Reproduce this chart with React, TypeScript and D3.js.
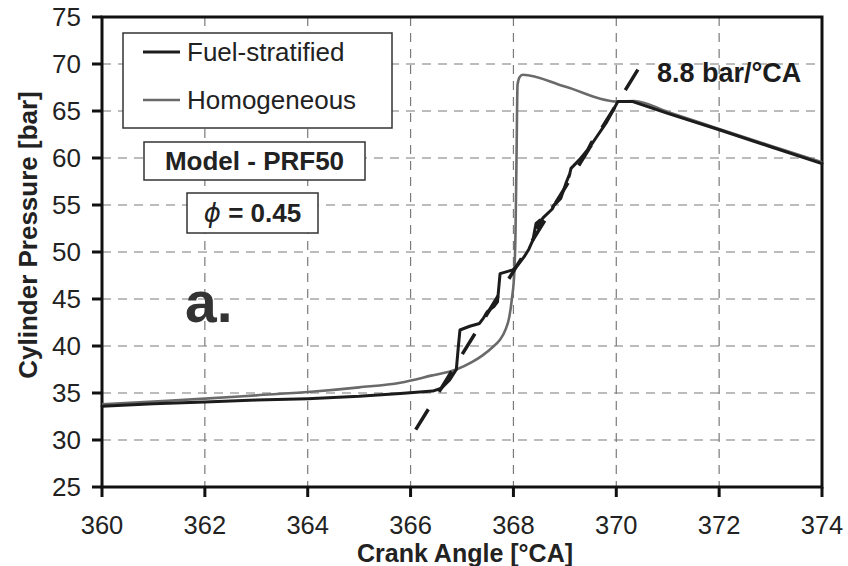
import React from "react";
import * as d3 from "d3";

const W = 848;
const H = 566;

const xTicks = [360, 362, 364, 366, 368, 370, 372, 374];
const yTicks = [25, 30, 35, 40, 45, 50, 55, 60, 65, 70, 75];

// Fuel-stratified (crank angle, pressure)
const stratCA = [360.0, 361.0, 362.0, 363.0, 364.0, 365.0, 365.8, 366.43, 366.6, 366.76, 366.89, 366.93, 366.96, 367.15, 367.34, 367.42, 367.5, 367.46, 367.55, 367.62, 367.69, 367.72, 367.74, 367.99, 368.1, 368.21, 368.3, 368.38, 368.44, 368.52, 368.47, 368.57, 368.76, 368.8, 368.76, 368.92, 369.02, 369.1, 369.08, 369.12, 369.28, 369.44, 369.52, 369.5, 369.6, 369.8, 369.92, 370.03, 370.32, 371.0, 372.0, 373.0, 374.0];
const stratP = [33.6, 33.85, 34.05, 34.25, 34.4, 34.65, 34.95, 35.2, 35.5, 36.4, 37.5, 40.0, 41.7, 42.1, 42.4, 43.0, 43.7, 43.4, 43.9, 44.2, 44.7, 46.5, 47.7, 48.1, 48.7, 49.5, 50.3, 51.3, 53.05, 53.4, 52.6, 53.6, 54.6, 55.1, 54.8, 55.7, 57.3, 58.4, 58.0, 58.9, 59.8, 60.85, 61.7, 61.3, 62.1, 63.7, 64.9, 66.0, 66.0, 64.75, 63.0, 61.2, 59.4];

// Homogeneous (crank angle, pressure)
const homogCA = [360.0, 361.0, 362.0, 363.0, 364.0, 365.0, 365.8, 366.4, 366.89, 367.2, 367.4, 367.6, 367.73, 367.85, 367.92, 367.97, 368.02, 368.04, 368.06, 368.08, 368.12, 368.18, 369.0, 370.03, 370.35, 371.0, 372.0, 373.0, 374.0];
const homogP = [33.8, 34.1, 34.4, 34.75, 35.1, 35.6, 36.1, 36.85, 37.5, 38.3, 39.0, 39.9, 40.6, 41.8, 43.1, 45.0, 48.1, 52.0, 60.0, 67.8, 68.6, 68.85, 67.6, 66.0, 66.05, 64.9, 63.1, 61.3, 59.55];

// 8.8 bar/°CA slope line
const slopeCA = [366.1, 370.42];
const slopeP = [31.1, 69.4];

const legendLabels = ["Fuel-stratified", "Homogeneous"];
const slopeLabel = "8.8 bar/°CA";
const modelLabel = "Model - PRF50";
const phiSymbol = "ϕ";
const phiValue = "= 0.45";
const panelLabel = "a.";
const xTitle = "Crank Angle [°CA]";
const yTitle = "Cylinder Pressure [bar]";

const FONT = "'Liberation Sans', Arial, Helvetica, sans-serif";

export default function App() {
  const left = 102, right = 822, top = 17, bottom = 487;
  const x = d3.scaleLinear().domain([360, 374]).range([left, right]);
  const y = d3.scaleLinear().domain([25, 75]).range([bottom, top]);

  const strat = stratCA.map((c, i) => [c, stratP[i]] as [number, number]);
  const homog = homogCA.map((c, i) => [c, homogP[i]] as [number, number]);
  const slope = slopeCA.map((c, i) => [c, slopeP[i]] as [number, number]);

  const lineLin = d3.line<[number, number]>().x(d => x(d[0])).y(d => y(d[1]));
  const lineMono = d3
    .line<[number, number]>()
    .x(d => x(d[0]))
    .y(d => y(d[1]))
    .curve(d3.curveMonotoneX);

  // dash pattern so the slope line starts and ends with a dash
  const sdx = x(slopeCA[1]) - x(slopeCA[0]);
  const sdy = y(slopeP[1]) - y(slopeP[0]);
  const sLen = Math.sqrt(sdx * sdx + sdy * sdy);
  const dashLen = 24;
  const nDash = 10;
  const gapLen = (sLen - dashLen * nDash) / (nDash - 1);

  return (
    <svg
      width={W}
      height={H}
      style={{ position: "absolute", left: 0, top: 0, background: "#fff" }}
      fontFamily={FONT}
    >
      <rect x={0} y={0} width={W} height={H} fill="#fff" />
      {/* grid */}
      <g stroke="#7a7a7a" strokeWidth={1.2} strokeDasharray="9,7">
        {yTicks.slice(1, -1).map(t => (
          <line key={"gy" + t} x1={left} x2={right} y1={y(t)} y2={y(t)} />
        ))}
        {xTicks.slice(1, -1).map(t => (
          <line key={"gx" + t} x1={x(t)} x2={x(t)} y1={top} y2={bottom} />
        ))}
      </g>

      {/* frame */}
      <rect x={left} y={top} width={right - left} height={bottom - top} fill="none" stroke="#111" strokeWidth={3} />

      {/* ticks */}
      <g stroke="#111" strokeWidth={3}>
        {yTicks.map(t => (
          <line key={"ty" + t} x1={left - 10} x2={left} y1={y(t)} y2={y(t)} />
        ))}
        {xTicks.map(t => (
          <line key={"tx" + t} x1={x(t)} x2={x(t)} y1={bottom} y2={bottom + 10} />
        ))}
      </g>
      <g fontSize={26} fill="#222">
        {yTicks.map(t => (
          <text key={"ly" + t} x={left - 21} y={y(t)} dy="0.35em" textAnchor="end">
            {t}
          </text>
        ))}
      </g>
      <g fontSize={25.5} fill="#222">
        {xTicks.map(t => (
          <text key={"lx" + t} x={x(t)} y={533.5} textAnchor="middle">
            {t}
          </text>
        ))}
      </g>

      {/* titles */}
      <text x={465} y={562} textAnchor="middle" fontSize={25} fontWeight="bold" fill="#222">
        {xTitle}
      </text>
      <text
        transform={`translate(37,235) rotate(-90)`}
        textAnchor="middle"
        fontSize={26}
        fontWeight="bold"
        fill="#222"
      >
        {yTitle}
      </text>

      {/* curves */}
      <path d={lineMono(homog) || ""} fill="none" stroke="#6a6a6a" strokeWidth={2.6} strokeLinejoin="round" />
      <path d={lineLin(strat) || ""} fill="none" stroke="#1c1c1c" strokeWidth={3} strokeLinejoin="round" strokeLinecap="round" />
      <path
        d={lineLin(slope) || ""}
        fill="none"
        stroke="#1c1c1c"
        strokeWidth={3.5}
        strokeDasharray={`${dashLen},${gapLen.toFixed(2)}`}
      />

      {/* slope label */}
      <text x={657} y={82} fontSize={27} fontWeight="bold" fill="#1c1c1c">
        {slopeLabel}
      </text>

      {/* legend */}
      <rect x={123} y={33} width={269} height={95} fill="#fff" stroke="#333" strokeWidth={1.5} />
      <line x1={143} x2={180} y1={52} y2={52} stroke="#1c1c1c" strokeWidth={3} />
      <text x={187} y={61} fontSize={26} fill="#222">{legendLabels[0]}</text>
      <line x1={143} x2={180} y1={100} y2={100} stroke="#6a6a6a" strokeWidth={2.6} />
      <text x={187} y={109} fontSize={26} fill="#222">{legendLabels[1]}</text>

      {/* model box */}
      <rect x={144} y={142} width={221} height={38} fill="#fff" stroke="#333" strokeWidth={1.5} />
      <text x={254.5} y={170} textAnchor="middle" fontSize={26} fontWeight="bold" fill="#222">
        {modelLabel}
      </text>

      {/* phi box */}
      <rect x={187} y={193} width={131} height={40} fill="#fff" stroke="#333" strokeWidth={1.5} />
      <text x={252.5} y={222} textAnchor="middle" fontSize={26} fontWeight="bold" fill="#222">
        <tspan fontStyle="italic" fontFamily="'DejaVu Sans', sans-serif" fontWeight="normal">{phiSymbol}</tspan>
        <tspan> {phiValue}</tspan>
      </text>

      {/* panel label */}
      <text x={185} y={322} fontSize={57} fontWeight="bold" fill="#333">
        {panelLabel}
      </text>
    </svg>
  );
}
